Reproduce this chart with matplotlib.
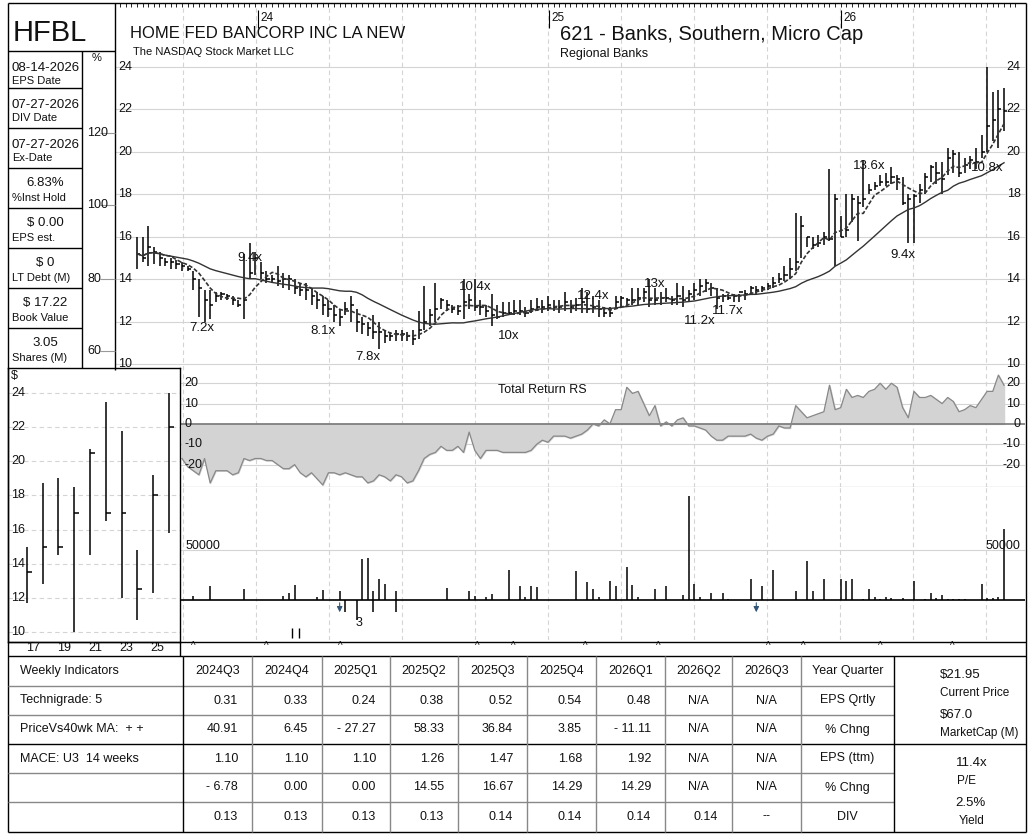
import matplotlib
matplotlib.use("Agg")
import matplotlib.pyplot as plt
import numpy as np
import pandas as pd

W, H = 1032, 840
plt.rcParams['font.family'] = ['Liberation Sans', 'DejaVu Sans']

# ---------------- data ----------------
close = [15.2,15.0,15.5,15.3,15.0,14.8,14.8,14.7,14.6,14.5,
         14.0,13.6,13.0,12.8,13.2,13.3,13.2,13.0,12.8,13.0,
         14.3,15.0,14.3,14.0,14.0,13.9,14.0,14.0,13.6,13.5,
         13.5,13.2,13.0,12.8,12.6,12.3,12.2,12.6,12.8,12.0,
         11.9,11.7,11.5,11.5,11.3,11.3,11.4,11.4,11.3,11.2,
         11.6,12.0,12.3,12.6,13.0,12.8,12.6,12.5,12.9,13.0,
         12.7,12.7,12.5,12.3,12.2,12.4,12.4,12.5,12.5,12.4,
         12.6,12.7,12.7,12.8,12.7,12.7,12.9,12.7,12.8,12.9,
         12.6,12.7,12.6,12.4,12.4,12.9,13.1,13.0,13.0,13.1,
         13.4,13.0,13.0,13.1,13.1,13.0,13.2,13.0,13.3,13.5,
         13.7,13.8,13.6,13.1,13.2,13.1,13.2,13.4,13.3,13.6,
         13.5,13.6,13.7,13.8,14.0,14.2,14.5,14.8,16.5,16.0,
         15.6,15.7,16.0,15.9,17.8,16.0,16.3,17.8,17.6,17.8,
         18.2,18.4,18.6,18.6,18.8,18.7,17.6,17.8,17.9,18.2,
         18.8,19.3,19.0,18.7,19.7,19.9,19.0,19.4,19.6,19.5,
         20.0,21.2,21.5,22.0,21.95]
high = [16.0,16.0,16.5,15.5,15.3,15.0,15.0,14.9,14.8,14.6,
        14.4,14.0,13.5,13.5,13.4,13.4,13.3,13.2,13.0,15.2,
        15.7,15.3,14.8,14.4,14.2,14.6,14.3,14.2,14.0,13.8,
        13.8,13.6,13.4,13.2,13.0,12.8,12.6,12.9,13.2,12.6,
        12.2,12.0,12.3,12.0,11.6,11.5,11.6,11.6,11.5,11.6,
        12.5,13.7,12.6,13.8,13.1,13.0,12.8,12.8,14.0,13.3,
        14.0,13.0,12.8,13.3,12.8,12.9,12.9,13.0,13.0,12.7,
        13.0,13.1,13.0,13.2,13.0,13.0,13.4,13.0,13.1,13.6,
        13.4,13.2,13.0,12.7,12.7,13.2,13.2,13.1,13.6,13.6,
        13.6,14.0,13.6,13.4,13.6,13.2,13.8,13.7,13.5,13.8,
        14.0,14.0,13.8,13.6,13.3,13.3,13.3,13.3,13.5,13.7,
        13.7,13.7,13.8,14.1,14.3,14.6,15.0,17.1,17.0,16.0,
        16.0,16.1,16.2,19.2,18.0,17.0,18.0,18.0,17.9,19.6,
        18.5,18.6,18.9,19.0,19.3,18.9,18.8,18.0,18.0,18.5,
        19.0,19.4,19.5,19.5,20.2,20.1,20.0,19.7,19.8,20.2,
        20.8,24.0,22.8,22.9,23.0]
low = [14.5,14.8,14.6,14.7,14.6,14.6,14.5,14.5,14.4,14.4,
       13.5,12.2,12.0,12.1,12.9,13.0,13.0,12.8,12.7,12.1,
       14.0,14.2,14.0,13.8,13.8,13.7,13.6,13.5,13.3,13.2,
       13.0,12.8,12.6,12.3,12.2,12.0,11.8,12.3,12.0,11.5,
       11.4,11.3,11.2,10.7,11.0,11.1,11.1,11.1,11.1,10.9,
       11.2,11.6,11.8,12.0,12.6,12.5,12.4,12.3,12.1,12.6,
       12.5,12.3,12.2,11.8,12.1,12.2,12.3,12.3,12.3,12.2,
       12.4,12.5,12.4,12.5,12.5,12.4,12.5,12.4,12.5,12.4,
       12.4,12.4,12.2,12.2,12.2,12.6,12.7,12.8,12.8,12.8,
       12.9,12.7,12.8,12.8,12.9,12.8,12.8,12.7,12.9,13.0,
       13.2,13.4,13.2,12.6,12.9,13.0,12.9,12.9,13.0,13.3,
       13.3,13.4,13.5,13.6,13.8,13.9,14.0,14.4,15.0,15.5,
       15.4,15.5,15.6,15.8,14.6,16.0,16.0,16.7,15.8,17.4,
       18.0,18.2,18.4,18.4,18.5,18.2,17.5,15.7,15.7,17.6,
       18.0,18.6,18.5,18.0,18.9,19.0,18.8,19.0,19.2,19.2,
       19.7,20.0,20.5,20.2,21.0]

rs_start = 8
rs = [-17,-21,-23,-25,-17,-29,-23,-23,-23,-25,-24,-17,-18,-17,-17,-18,-18,-20,-22,-22,
      -20,-24,-26,-24,-27,-30,-24,-24,-25,-24,-25,-26,-26,-29,-28,-25,-26,-28,-25,-26,
      -29,-28,-23,-17,-15,-14,-11,-13,-13,-11,-14,-4,-13,-17,-13,-13,-13,-14,-14,-14,
      -14,-14,-13,-10,-8,-9,-6,-6,-6,-7,-6,-5,-3,0,-1,2,0,7,7,18,
      15,16,10,4,9,-1,1,-1,2,3,-1,-1,-2,-3,-6,-8,-8,-6,-6,-6,
      -6,-5,-7,-8,-6,-5,-1,-2,-2,9,6,3,4,5,6,19,7,8,17,13,
      14,13,16,17,20,17,20,18,8,3,16,13,13,14,12,10,13,11,6,7,
      9,8,12,16,16,24,19]

vol_week = [10,13,19,26,27,28,32,33,36,40,41,42,43,44,46,55,59,60,62,63,66,68,69,70,71,
            78,80,81,82,84,85,87,88,89,92,94,97,98,99,100,102,104,105,109,111,
            113,117,119,120,122,125,126,127,129,130,131,132,133,134,
            136,138,140,141,142,143,144,145,146,147,150,151,152,153,154]
vol_val = [4500,13700,11400,3600,7200,15300,3300,9800,9100,40800,41800,9100,21200,15700,8800,12400,
           8800,4200,3000,6500,30400,13700,3000,13700,12700,29400,17600,10800,2600,18900,13700,
           33000,14700,2600,11400,13700,4900,104000,15700,2600,6900,6900,1200,21200,13700,
           30000,8800,39200,8800,21200,20600,18900,21200,1500,11400,3000,1200,3000,2500,
           2500,18600,1500,7500,2000,4900,1500,1500,1500,1500,16300,2000,2500,3000,71200]
neg_week = [37,39,42,46]
neg_val = [-12000,-20000,-12000,-12000]
split_week = [36,110]

pe_labels = [(11.5,12.0,"7.2x"),(20,15.3,"9.4x"),(33,11.85,"8.1x"),(41,10.6,"7.8x"),
             (60,13.9,"10.4x"),(66,11.6,"10x"),(81,13.5,"12.4x"),(92,14.05,"13x"),
             (100,12.3,"11.2x"),(105,12.8,"11.7x"),(130,19.6,"13.6x"),(136,15.4,"9.4x"),
             (151,19.5,"10.8x")]

yr_labels = ["17","18","19","20","21","22","23","24","25","26"]
yr_high = [15.0,18.7,19.0,18.5,20.7,23.5,21.8,14.8,19.2,24.0]
yr_low = [11.7,12.8,14.5,10.0,14.5,16.5,12.0,10.7,12.3,15.8]
yr_close = [13.5,15.0,15.0,17.0,20.5,17.0,17.0,12.5,18.0,22.0]

info = [("08-14-2026","EPS Date",False),("07-27-2026","DIV Date",False),("07-27-2026","Ex-Date",False),
        ("6.83%","%Inst Hold",True),("$ 0.00","EPS est.",True),("$ 0","LT Debt (M)",True),
        ("$ 17.22","Book Value",True),("3.05","Shares (M)",True)]

quarters = ["2024Q3","2024Q4","2025Q1","2025Q2","2025Q3","2025Q4","2026Q1","2026Q2","2026Q3"]
row_labels = ["Technigrade: 5","PriceVs40wk MA:  + +","MACE: U3  14 weeks","",""]
eps_q = ["0.31","0.33","0.24","0.38","0.52","0.54","0.48","N/A","N/A"]
eps_q_chg = ["40.91","6.45","- 27.27","58.33","36.84","3.85","- 11.11","N/A","N/A"]
eps_ttm = ["1.10","1.10","1.10","1.26","1.47","1.68","1.92","N/A","N/A"]
eps_ttm_chg = ["- 6.78","0.00","0.00","14.55","16.67","14.29","14.29","N/A","N/A"]
div = ["0.13","0.13","0.13","0.13","0.14","0.14","0.14","0.14","--"]
right_labels = ["EPS Qrtly","% Chng","EPS (ttm)","% Chng","DIV"]

# ---------------- figure ----------------
fig = plt.figure(figsize=(W/100, H/100), dpi=100)
def add_ax(x0, y0, x1, y1, z=1):
    return fig.add_axes([x0/W, 1-y1/H, (x1-x0)/W, (y1-y0)/H], zorder=z)

n = len(close)
idx = np.arange(n)
px_per = 5.63
x0px = 137
xl = ((115-x0px)/px_per, (1025-x0px)/px_per)
grid_x = [(183 + 73*k - x0px)/px_per for k in range(12)]
gcol = '#d4d4d4'
txt = '#111111'

def style(ax):
    ax.set_xlim(*xl)
    for s in ax.spines.values():
        s.set_visible(False)
    ax.set_xticks([]); ax.set_yticks([])
    for g in grid_x:
        ax.axvline(g, color=gcol, lw=0.8, ls=(0,(4,3)), zorder=0)

# price panel
axp = add_ax(115, 8, 1025, 370)
style(axp)
lo_p, hi_p = 10 - 6/21.2, 24 + 59/21.2
axp.set_ylim(lo_p, hi_p)
for v in range(10, 25, 2):
    axp.axhline(v, color=gcol, lw=0.8, zorder=0)
    axp.text(xl[0]+0.5, v, str(v), fontsize=9, va='center', ha='left', color=txt)
    axp.text(xl[1]-0.8, v, str(v), fontsize=9, va='center', ha='right', color=txt)
axp.vlines(idx, low, high, color='black', lw=1.1, zorder=3)
axp.hlines(close, idx, idx+0.55, color='black', lw=1.1, zorder=3)
s = pd.Series(close)
axp.plot(idx, s.rolling(5, min_periods=1).mean(), color='#333333', lw=1.2, ls=(0,(2.5,1.2)), zorder=4)
axp.plot(idx, s.rolling(20, min_periods=1).mean(), color='#333333', lw=1.0, zorder=4)
for xi, yv, t in pe_labels:
    axp.text(xi, yv, t, fontsize=9.5, ha='center', va='top', color=txt, zorder=5)

# RS panel
axr = add_ax(115, 370, 1025, 487)
style(axr)
axr.set_ylim(-31, 26.5)
for v in (-20, -10, 10, 20):
    axr.axhline(v, color=gcol, lw=0.8, zorder=0)
axr.axhline(0, color='#777777', lw=1.2, zorder=2)
ri = np.arange(rs_start, rs_start+len(rs))
axr.fill_between(ri, rs, 0, color='#d3d3d3', zorder=1)
axr.plot(ri, rs, color='#888888', lw=0.9, zorder=2)
for v in (-20, -10, 0, 10, 20):
    axr.text((182-x0px)/px_per+0.4, v, str(v), fontsize=9, va='center', ha='left', color=txt)
    axr.text(xl[1]-0.8, v, str(v), fontsize=9, va='center', ha='right', color=txt)
axr.text(72, 16.5, "Total Return RS", fontsize=9, ha='center', va='center', color=txt)
axr.axhline(-31, color='#cccccc', lw=1)

# Volume panel
axv = add_ax(115, 487, 1025, 640)
style(axv)
ppx = 1000.0
axv.set_ylim(-40*ppx, 113*ppx)
axv.axhline(50000, color=gcol, lw=0.8, zorder=0)
axv.axhline(0, color='black', lw=1.2, zorder=3)
axv.vlines(vol_week, 0, vol_val, color='black', lw=1.1, zorder=2)
axv.vlines(neg_week, 0, neg_val, color='black', lw=1.1, zorder=2)
for w in split_week:
    axv.annotate("", xy=(w, -15000), xytext=(w, 0),
                 arrowprops=dict(arrowstyle='-|>', color='#335577', lw=0.8, mutation_scale=8))
axv.text(39.5, -17000, "3", fontsize=9, ha='center', va='top', color=txt)
axv.text((186-x0px)/px_per, 54000, "50000", fontsize=9, ha='left', va='center', color=txt)
axv.text(xl[1]-0.8, 54000, "50000", fontsize=9, ha='right', va='center', color=txt)
axv.vlines([27.5, 28.7], -38000, -28000, color='black', lw=1)

# inset yearly panel
axi = add_ax(8, 368, 180, 642, z=5)
axi.set_facecolor('white')
axi.set_xlim(-1.2, len(yr_labels)-0.3)
axi.set_ylim(10 - 10/17.07, 24 + 25/17.07)
for sp in axi.spines.values():
    sp.set_color('black'); sp.set_linewidth(1)
axi.set_xticks([]); axi.set_yticks([])
for v in range(10, 25, 2):
    axi.axhline(v, color=gcol, lw=0.8, ls=(0,(4,3)), zorder=0)
    axi.text(-1.0, v, str(v), fontsize=9, va='center', ha='left', color=txt)
yi = np.arange(len(yr_labels))
axi.vlines(yi, yr_low, yr_high, color='black', lw=1.1)
axi.hlines(yr_close, yi, yi+0.3, color='black', lw=1.1)
axi.text(-1.0, 24 + 17/17.07, "$", fontsize=9, va='center', ha='left', color=txt)

# overlay
ov = fig.add_axes([0, 0, 1, 1], zorder=10)
ov.set_xlim(0, W); ov.set_ylim(H, 0); ov.axis('off'); ov.patch.set_alpha(0)
def L(x1, y1, x2, y2, c='black', lw=1.0):
    ov.plot([x1, x2], [y1, y2], color=c, lw=lw, solid_capstyle='butt')
L(8, 3, 1026, 3); L(8, 832, 1026, 832); L(8, 3, 8, 832); L(1026, 3, 1026, 832)
L(115, 3, 115, 370)
L(8, 51, 115, 51); L(82, 51, 82, 368)
for yb in (88, 128, 168, 208, 248, 288, 328):
    L(8, yb, 82, yb)
ov.text(13, 33, "HFBL", fontsize=21, va='center', ha='left', color=txt)
ov.text(97, 58, "%", fontsize=8, ha='center', va='center', color=txt)
for v, yy in ((120, 133), (100, 205), (80, 279), (60, 351)):
    ov.text(87, yy, str(v), fontsize=9, ha='left', va='center', color=txt)
    L(100, yy, 115, yy, c='#999999', lw=0.8)
tops = [51, 88, 128, 168, 208, 248, 288, 328]
for (v, lab, cen), t in zip(info, tops):
    if cen:
        ov.text(45, t+15, v, fontsize=9.5, ha='center', va='center', color=txt)
    else:
        ov.text(12, t+17, v, fontsize=9.5, ha='left', va='center', color=txt)
    ov.text(12, t+30, lab, fontsize=8, ha='left', va='center', color=txt)
ov.text(130, 33, "HOME FED BANCORP INC LA NEW", fontsize=12, va='center', ha='left', color=txt)
ov.text(133, 52, "The NASDAQ Stock Market LLC", fontsize=8, va='center', ha='left', color=txt)
ov.text(560, 35, "621 - Banks, Southern, Micro Cap", fontsize=14.5, va='center', ha='left', color=txt)
ov.text(560, 54, "Regional Banks", fontsize=9, va='center', ha='left', color=txt)
for yl, xx in (("24", 258), ("25", 549), ("26", 841)):
    L(xx, 10, xx, 28, lw=0.8)
    ov.text(xx+2, 18, yl, fontsize=8.5, va='center', ha='left', color=txt)
for k in range(int((1025-120)/5.63)):
    xx = 120 + 5.63*k
    L(xx, 3, xx, 7, lw=0.6)
for k, lab in enumerate(["17", "19", "21", "23", "25"]):
    ov.text(33 + 31*k, 648, lab, fontsize=9, ha='center', va='center', color=txt)
L(8, 642, 1026, 642); L(8, 656, 183, 656)
L(180, 642, 180, 656)
for xx in (193, 266, 340, 477, 513, 585, 658, 768, 803, 880, 952):
    ov.text(xx, 646, "^", fontsize=7, ha='center', va='center', color=txt)
cols = [183, 252, 322, 390, 458, 527, 596, 665, 732, 801, 894, 1026]
rows = [656, 686, 715, 744, 773, 802, 831]
L(183, 656, 1026, 656)
for r in rows[1:-1]:
    if r == 744:
        L(8, r, 1026, r)
    else:
        L(8, r, 894, r, c='#888888')
for c in cols[:-1]:
    L(c, 656, c, 832, c='black' if c in (183, 894) else '#888888')
rc = [(rows[i]+rows[i+1])/2 for i in range(6)]
ov.text(20, rc[0], "Weekly Indicators", fontsize=9, va='center', ha='left', color=txt)
for j, lab in enumerate(row_labels):
    ov.text(20, rc[j+1], lab, fontsize=9, va='center', ha='left', color=txt)
for k, q in enumerate(quarters):
    ov.text((cols[k]+cols[k+1])/2, rc[0], q, fontsize=9, va='center', ha='center', color=txt)
ov.text((801+894)/2, rc[0], "Year Quarter", fontsize=9, va='center', ha='center', color=txt)
for j, data in enumerate([eps_q, eps_q_chg, eps_ttm, eps_ttm_chg, div]):
    for k, v in enumerate(data):
        if v in ("N/A", "--"):
            ov.text((cols[k]+cols[k+1])/2, rc[j+1], v, fontsize=9, va='center', ha='center', color=txt)
        else:
            ov.text(cols[k+1]-14, rc[j+1], v, fontsize=9, va='center', ha='right', color=txt)
    ov.text((801+894)/2, rc[j+1], right_labels[j], fontsize=9, va='center', ha='center', color=txt)
ov.text(940, 675, "$21.95", fontsize=9.5, va='center', ha='left', color=txt)
ov.text(940, 693, "Current Price", fontsize=8.5, va='center', ha='left', color=txt)
ov.text(940, 715, "$67.0", fontsize=9.5, va='center', ha='left', color=txt)
ov.text(940, 733, "MarketCap (M)", fontsize=8.5, va='center', ha='left', color=txt)
ov.text(972, 763, "11.4x", fontsize=9.5, va='center', ha='center', color=txt)
ov.text(967, 781, "P/E", fontsize=8.5, va='center', ha='center', color=txt)
ov.text(970, 803, "2.5%", fontsize=9.5, va='center', ha='center', color=txt)
ov.text(972, 821, "Yield", fontsize=8.5, va='center', ha='center', color=txt)

fig.savefig("out.png", dpi=100)
